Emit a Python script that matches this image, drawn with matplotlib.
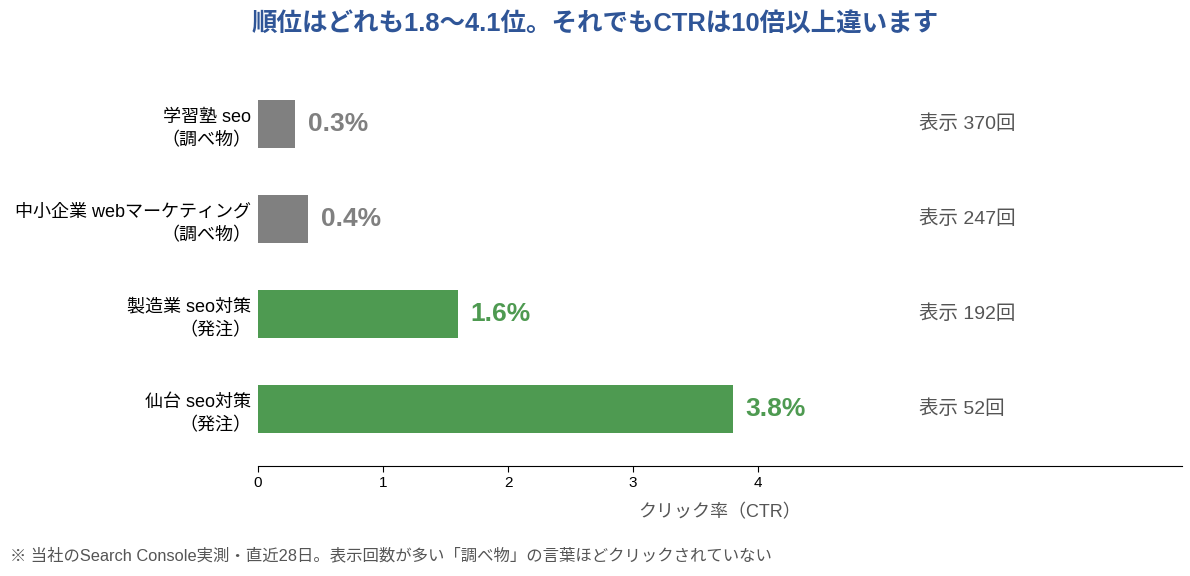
import matplotlib
matplotlib.use("Agg")
import matplotlib.pyplot as plt

plt.rcParams['font.family'] = ['Liberation Sans', 'Noto Sans CJK JP', 'DejaVu Sans']

# データ
labels = ["学習塾 seo\n（調べ物）", "中小企業 webマーケティング\n（調べ物）",
          "製造業 seo対策\n（発注）", "仙台 seo対策\n（発注）"]
ctr = [0.3, 0.4, 1.6, 3.8]
impressions = [370, 247, 192, 52]
kinds = ["調べ物", "調べ物", "発注", "発注"]

GRAY = "#808080"
GREEN = "#4e9a51"
colors = [GRAY if k == "調べ物" else GREEN for k in kinds]

fig = plt.figure(figsize=(11.9, 5.76), dpi=100)
ax = fig.add_axes([0.2168, 0.191, 0.7765, 0.693])

y = list(range(len(labels)))
ax.barh(y, ctr, height=0.5, color=colors)
ax.set_ylim(3.6, -0.6)
xmax = max(ctr) * 1.945
ax.set_xlim(0, xmax)

for yi, v, c, n in zip(y, ctr, colors, impressions):
    ax.text(v + 0.1, yi, f"{v:.1f}%", va="center", ha="left",
            fontsize=19, fontweight="bold", color=c)
    ax.text(max(ctr) * 1.392, yi, f"表示 {n}回", va="center", ha="left",
            fontsize=14, color="#555555")

ax.set_yticks(y)
ax.set_yticklabels(labels, fontsize=13, linespacing=1.5)
ax.tick_params(axis="y", length=0, pad=5)
ax.set_xticks([0, 1, 2, 3, 4])
ax.tick_params(axis="x", labelsize=11, length=4)
ax.set_xlabel("クリック率（CTR）", fontsize=13, color="#555555", labelpad=10)

for s in ["top", "right", "left"]:
    ax.spines[s].set_visible(False)

fig.text(0.5, 0.958, "順位はどれも1.8〜4.1位。それでもCTRは10倍以上違います",
         ha="center", va="center", fontsize=18.4, fontweight="bold", color="#2f5597")
fig.text(0.008, 0.035, "※ 当社のSearch Console実測・直近28日。表示回数が多い「調べ物」の言葉ほどクリックされていない",
         ha="left", va="center", fontsize=11.8, color="#555555")

fig.savefig("out.png", dpi=100)
